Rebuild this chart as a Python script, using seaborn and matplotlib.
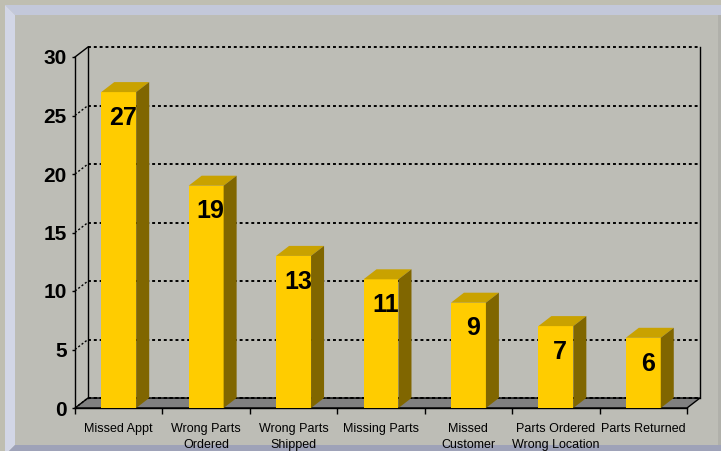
import matplotlib
matplotlib.use("Agg")
import matplotlib.pyplot as plt
import seaborn as sns
import pandas as pd
from matplotlib.patches import Polygon

# ---- data ----
categories = ["Missed Appt", "Wrong Parts\nOrdered", "Wrong Parts\nShipped", "Missing Parts",
              "Missed\nCustomer", "Parts Ordered\nWrong Location", "Parts Returned"]
values = [27, 19, 13, 11, 9, 7, 6]
y_ticks = [0, 5, 10, 15, 20, 25, 30]

# ---- style ----
W, H = 721, 451
INNER = "#BDBDB6"
BEIGE = "#BFBEB1"
LAV_TOP = "#C3C8DA"
LAV_LEFT = "#D2D6E6"
LAV_BOT = "#9EA2B8"
FRONT = "#FFCC00"
TOP = "#C9A200"
SIDE = "#806600"
FLOOR = "#808080"
DEPTH_PX = (13, 10)
NARROW = ["Liberation Sans Narrow", "Liberation Sans", "DejaVu Sans"]

plt.rcParams["font.family"] = ["Liberation Sans", "DejaVu Sans"]

fig = plt.figure(figsize=(W / 100, H / 100), dpi=100, facecolor=INNER)


def fig_poly(pts, color):
    p = Polygon([(x / W, 1 - y / H) for x, y in pts], closed=True, transform=fig.transFigure,
                facecolor=color, edgecolor="none", zorder=-10)
    fig.add_artist(p)


fig_poly([(0, 0), (721, 0), (721, 5), (0, 5)], BEIGE)
fig_poly([(0, 0), (5, 0), (5, 451), (0, 451)], BEIGE)
fig_poly([(5, 5), (721, 5), (721, 15), (15, 15)], LAV_TOP)
fig_poly([(5, 5), (15, 15), (15, 445), (9, 451), (5, 451)], LAV_LEFT)
fig_poly([(9, 451), (15, 445), (721, 445), (721, 451)], LAV_BOT)
fig_poly([(718, 15), (721, 15), (721, 445), (718, 445)], "#B0B0AA")

ax_left, ax_right, ax_bottom, ax_top = 75, 687, 408, 57
ax = fig.add_axes([ax_left / W, 1 - ax_bottom / H, (ax_right - ax_left) / W, (ax_bottom - ax_top) / H])
ax.set_facecolor("none")

df = pd.DataFrame({"cat": categories, "val": values})
sns.barplot(data=df, x="cat", y="val", order=categories, color=FRONT, saturation=1,
            width=0.4, linewidth=0, ax=ax, zorder=3)

n = len(categories)
ax.set_xlim(-0.5, n - 0.5)
ax.set_ylim(y_ticks[0], y_ticks[-1])
ax.set_xlabel("")
ax.set_ylabel("")

# depth offset in data units
dx = DEPTH_PX[0] * n / (ax_right - ax_left)
dy = DEPTH_PX[1] * (y_ticks[-1] - y_ticks[0]) / (ax_bottom - ax_top)
x0a, x1a = -0.5, n - 0.5

dot = (0, (1.5, 1.5))
# back wall gridlines + side wall lines
for t in y_ticks:
    ax.plot([x0a + dx, x1a + dx], [t + dy, t + dy], color="black", lw=1.4, ls=dot,
            clip_on=False, zorder=2.6)
    ax.plot([x0a, x0a + dx], [t, t + dy], color="black", lw=1.0,
            ls="-" if t == y_ticks[-1] else dot, clip_on=False, zorder=2.6)
# back wall verticals
for xv in (x0a + dx, x1a + dx):
    ax.plot([xv, xv], [dy, y_ticks[-1] + dy], color="black", lw=1.0, clip_on=False, zorder=2.6)
# floor
ax.add_patch(Polygon([(x0a, 0), (x0a + dx, dy), (x1a + dx, dy), (x1a, 0)], closed=True,
                     facecolor=FLOOR, edgecolor="black", lw=1.0, clip_on=False, zorder=2))
ax.plot([x0a + dx, x1a + dx], [dy, dy], color="black", lw=1.4, ls=dot, clip_on=False, zorder=2.6)

# 3D faces of bars + value labels
for p, v in zip(ax.patches, values):
    bx, bw, bh = p.get_x(), p.get_width(), p.get_height()
    ax.add_patch(Polygon([(bx, bh), (bx + bw, bh), (bx + bw + dx, bh + dy), (bx + dx, bh + dy)],
                         closed=True, facecolor=TOP, edgecolor="none", clip_on=False, zorder=3))
    ax.add_patch(Polygon([(bx + bw, 0), (bx + bw + dx, dy), (bx + bw + dx, bh + dy), (bx + bw, bh)],
                         closed=True, facecolor=SIDE, edgecolor="none", clip_on=False, zorder=3))
    ax.text(bx + bw / 2 + 0.05, bh - 2.2, str(v), ha="center", va="center",
            fontsize=18, fontweight="bold", color="black", family=NARROW, zorder=5)

# axes styling
for s in ("top", "right"):
    ax.spines[s].set_visible(False)
for s in ("left", "bottom"):
    ax.spines[s].set_color("black")
    ax.spines[s].set_linewidth(1.0)
    ax.spines[s].set_zorder(2.7)

ax.set_yticks(y_ticks)
ax.set_yticklabels([str(t) for t in y_ticks], fontsize=15, fontweight="bold")
ax.tick_params(axis="y", direction="out", length=2.5, width=1, pad=3.5, color="black")

ax.set_xticks(range(n))
ax.set_xticklabels(categories, fontsize=9, linespacing=1.45, family=NARROW)
ax.set_xticks([i - 0.5 for i in range(n + 1)], minor=True)
ax.tick_params(axis="x", which="major", length=0, pad=10.5)
ax.tick_params(axis="x", which="minor", length=4, width=1, direction="out", color="black")
ax.grid(False)

fig.savefig("out.png", dpi=100, facecolor=INNER)
